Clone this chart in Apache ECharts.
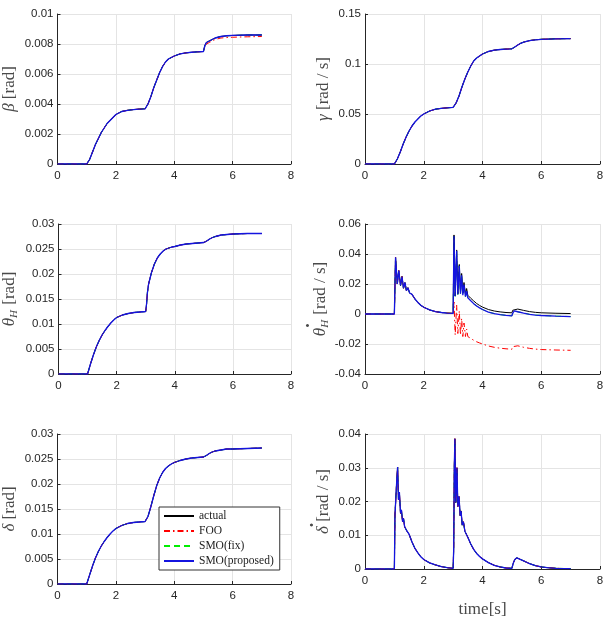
<!DOCTYPE html>
<html><head><meta charset="utf-8">
<script src="https://cdn.jsdelivr.net/npm/echarts@6/dist/echarts.min.js"></script>
<style>html,body{margin:0;padding:0;background:#fff}#c{width:609px;height:619px}</style>
</head><body><div id="c"></div>
<script>
// ---------- DATA ----------
const SERIES_NAMES = ['actual', 'FOO', 'SMO(fix)', 'SMO(proposed)'];
const X_TICKS = [0, 2, 4, 6, 8];

const SMOOTH_T = [0, 1.0, 1.1, 1.2, 1.3, 1.4, 1.5, 1.6, 1.7, 1.8, 1.9, 2.0, 2.2, 2.4, 2.6, 2.8, 3.0, 3.05, 3.1, 3.2, 3.3, 3.4, 3.5, 3.6, 3.7, 3.8, 3.9, 4.0, 4.2, 4.4, 4.6, 4.8, 5.0, 5.05, 5.1, 5.2, 5.3, 5.4, 5.6, 5.8, 6.0, 6.5, 7.0];

const BETA_ACT = [0, 0, 0.0003, 0.0008, 0.0013, 0.0017, 0.0021, 0.0024, 0.0027, 0.0029, 0.0031, 0.0033, 0.0035, 0.00358, 0.00363, 0.00366, 0.00368, 0.0038, 0.0040, 0.0045, 0.0051, 0.0056, 0.0061, 0.0065, 0.0068, 0.0070, 0.0071, 0.0072, 0.00734, 0.00741, 0.00745, 0.00748, 0.0075, 0.0079, 0.0081, 0.0082, 0.0083, 0.0084, 0.0085, 0.00855, 0.00857, 0.0086, 0.0086];
const BETA_FOO = [0, 0, 0.0003, 0.0008, 0.0013, 0.0017, 0.0021, 0.0024, 0.0027, 0.0029, 0.0031, 0.0033, 0.0035, 0.00358, 0.00363, 0.00366, 0.00368, 0.0038, 0.0040, 0.0045, 0.0051, 0.0056, 0.0061, 0.0065, 0.0068, 0.0070, 0.0071, 0.0072, 0.00734, 0.00741, 0.00745, 0.00748, 0.0075, 0.0078, 0.0080, 0.0081, 0.0082, 0.0083, 0.0084, 0.00843, 0.00845, 0.00848, 0.0085];

const GAMMA_ACT = [0, 0, 0.005, 0.012, 0.020, 0.027, 0.033, 0.038, 0.042, 0.045, 0.048, 0.050, 0.053, 0.0548, 0.0557, 0.0562, 0.0566, 0.058, 0.061, 0.068, 0.077, 0.085, 0.092, 0.098, 0.103, 0.106, 0.108, 0.110, 0.1125, 0.1138, 0.1145, 0.1149, 0.1152, 0.1158, 0.117, 0.119, 0.1207, 0.1219, 0.1234, 0.1242, 0.1247, 0.1252, 0.1254];

const THETA_T = [0, 1.0, 1.1, 1.2, 1.3, 1.4, 1.5, 1.6, 1.7, 1.8, 1.9, 2.0, 2.2, 2.4, 2.6, 2.8, 3.0, 3.03, 3.06, 3.1, 3.2, 3.3, 3.4, 3.5, 3.6, 3.7, 3.8, 3.9, 4.0, 4.2, 4.4, 4.6, 4.8, 5.0, 5.1, 5.2, 5.3, 5.4, 5.6, 5.8, 6.0, 6.5, 7.0];
const THETA_ACT = [0, 0, 0.0020, 0.0038, 0.0054, 0.0067, 0.0078, 0.0087, 0.0095, 0.0102, 0.0108, 0.0113, 0.0118, 0.0121, 0.0123, 0.0124, 0.0125, 0.0140, 0.0163, 0.0180, 0.0203, 0.0220, 0.0232, 0.0240, 0.0246, 0.0250, 0.0252, 0.0254, 0.0255, 0.0258, 0.0260, 0.0261, 0.0262, 0.0263, 0.0266, 0.0270, 0.0273, 0.0275, 0.0278, 0.0279, 0.0280, 0.0281, 0.0281];

const DELTA_ACT = [0, 0, 0.0018, 0.0036, 0.0052, 0.0065, 0.0076, 0.0085, 0.0093, 0.0100, 0.0106, 0.0111, 0.0117, 0.0121, 0.0123, 0.0124, 0.0125, 0.0128, 0.0135, 0.0155, 0.0177, 0.0197, 0.0212, 0.0223, 0.0231, 0.0236, 0.0240, 0.0243, 0.0247, 0.0250, 0.0252, 0.0253, 0.0254, 0.0255, 0.0257, 0.0261, 0.0264, 0.0266, 0.0268, 0.0270, 0.0270, 0.0271, 0.0272];

const THDOT_T = [0, 1.0, 1.04, 1.10, 1.15, 1.21, 1.26, 1.31, 1.36, 1.41, 1.46, 1.52, 1.6, 1.7, 1.8, 1.9, 2.0, 2.2, 2.4, 2.6, 2.8, 3.0, 3.03, 3.07, 3.12, 3.16, 3.21, 3.25, 3.29, 3.33, 3.37, 3.42, 3.46, 3.5, 3.6, 3.7, 3.8, 3.9, 4.0, 4.2, 4.4, 4.6, 4.8, 5.0, 5.03, 5.08, 5.2, 5.4, 5.6, 5.8, 6.0, 6.5, 7.0];
const THDOT_ACT = [0, 0, 0.0378, 0.0200, 0.0290, 0.0190, 0.0250, 0.0172, 0.0210, 0.0155, 0.0175, 0.0140, 0.0131, 0.0100, 0.0077, 0.0058, 0.0045, 0.0027, 0.0016, 0.0010, 0.0006, 0.0004, 0.0527, 0.0120, 0.0427, 0.0135, 0.0330, 0.0145, 0.0270, 0.0140, 0.0210, 0.0132, 0.0170, 0.0125, 0.0105, 0.0087, 0.0070, 0.0057, 0.0046, 0.0030, 0.0020, 0.0014, 0.0010, 0.0008, 0.0025, 0.0038, 0.0033, 0.0024, 0.0016, 0.0011, 0.0008, 0.0005, 0.0003];
const THDOT_FOO = [0, 0, 0.0378, 0.0200, 0.0290, 0.0190, 0.0250, 0.0172, 0.0210, 0.0155, 0.0175, 0.0140, 0.0131, 0.0100, 0.0077, 0.0058, 0.0045, 0.0027, 0.0016, 0.0010, 0.0006, 0.0004, 0.0080, -0.0140, 0.0060, -0.0130, 0.0020, -0.0140, -0.0030, -0.0150, -0.0060, -0.0150, -0.0100, -0.0150, -0.0163, -0.0175, -0.0185, -0.0193, -0.0200, -0.0213, -0.0222, -0.0228, -0.0232, -0.0235, -0.0218, -0.0207, -0.0212, -0.0222, -0.0229, -0.0234, -0.0237, -0.0240, -0.0242];
const THDOT_PROP = [0, 0, 0.0378, 0.0200, 0.0290, 0.0190, 0.0250, 0.0172, 0.0210, 0.0155, 0.0175, 0.0140, 0.0131, 0.0100, 0.0077, 0.0058, 0.0045, 0.0027, 0.0016, 0.0010, 0.0006, 0.0004, 0.0520, 0.0118, 0.0422, 0.0130, 0.0322, 0.0135, 0.0258, 0.0126, 0.0196, 0.0116, 0.0153, 0.0108, 0.0088, 0.0069, 0.0053, 0.0041, 0.0030, 0.0013, 0.0003, -0.0004, -0.0009, -0.0012, 0.0005, 0.0021, 0.0015, 0.0006, -0.0002, -0.0007, -0.0010, -0.0014, -0.0017];

const DDOT_T = [0, 1.0, 1.02, 1.05, 1.08, 1.11, 1.14, 1.17, 1.21, 1.24, 1.28, 1.31, 1.35, 1.38, 1.43, 1.5, 1.6, 1.7, 1.8, 1.9, 2.0, 2.2, 2.4, 2.6, 2.8, 3.0, 3.02, 3.04, 3.06, 3.09, 3.13, 3.16, 3.20, 3.24, 3.27, 3.31, 3.35, 3.40, 3.45, 3.5, 3.6, 3.7, 3.8, 3.9, 4.0, 4.2, 4.4, 4.6, 4.8, 5.0, 5.05, 5.1, 5.17, 5.3, 5.4, 5.5, 5.6, 5.7, 5.8, 6.0, 6.2, 6.5, 7.0];
const DDOT_ACT = [0, 0, 0.0160, 0.0210, 0.0260, 0.0302, 0.0205, 0.0228, 0.0165, 0.0175, 0.0140, 0.0150, 0.0125, 0.0130, 0.0112, 0.0103, 0.0080, 0.0061, 0.0048, 0.0036, 0.0028, 0.0018, 0.0012, 0.0007, 0.0004, 0.0002, 0.0060, 0.0300, 0.0386, 0.0197, 0.0300, 0.0185, 0.0215, 0.0158, 0.0172, 0.0130, 0.0140, 0.0112, 0.0112, 0.0094, 0.0074, 0.0058, 0.0046, 0.0037, 0.0030, 0.0019, 0.0011, 0.0006, 0.0003, 0.0002, 0.0018, 0.0028, 0.0033, 0.0028, 0.0024, 0.0020, 0.0016, 0.0013, 0.0010, 0.0006, 0.0004, 0.0002, 0.0001];

// y-axis ranges per panel: [min, max, interval]
const Y_RANGES = [[0, 0.01, 0.002], [0, 0.15, 0.05], [0, 0.03, 0.005], [-0.04, 0.06, 0.02], [0, 0.03, 0.005], [0, 0.04, 0.01]];

// ---------- CHART ----------
const zip = (t, v) => t.map((x, i) => [x, v[i]]);
const PANELS = [
  { t: SMOOTH_T, act: BETA_ACT, foo: BETA_FOO, fix: BETA_ACT, prop: BETA_ACT },
  { t: SMOOTH_T, act: GAMMA_ACT, foo: GAMMA_ACT, fix: GAMMA_ACT, prop: GAMMA_ACT },
  { t: THETA_T, act: THETA_ACT, foo: THETA_ACT, fix: THETA_ACT, prop: THETA_ACT },
  { t: THDOT_T, act: THDOT_ACT, foo: THDOT_FOO, fix: THDOT_PROP, prop: THDOT_PROP },
  { t: SMOOTH_T, act: DELTA_ACT, foo: DELTA_ACT, fix: DELTA_ACT, prop: DELTA_ACT },
  { t: DDOT_T, act: DDOT_ACT, foo: DDOT_ACT, fix: DDOT_ACT, prop: DDOT_ACT }
];

const LEFTS = [57, 365];
const TOPS = [14, 224, 434];
const grids = [], xAxes = [], yAxes = [], series = [];
const AX = '#262626';
const SERIF = 'Liberation Serif';
const LBL = '#4a4a4a';
const richBase = {
  g: { fontFamily: SERIF, fontStyle: 'italic', fontSize: 17, color: LBL, lineHeight: 18 },
  r: { fontFamily: SERIF, fontSize: 17, color: LBL, lineHeight: 18 },
  s: { fontFamily: SERIF, fontStyle: 'italic', fontSize: 11, color: LBL, padding: [9, 1, 0, 0] },
  dt1: { fontFamily: SERIF, fontSize: 18, fontWeight: 'bold', color: LBL, lineHeight: 4, padding: [0, 53, 0, 0] },
  dt2: { fontFamily: SERIF, fontSize: 18, fontWeight: 'bold', color: LBL, lineHeight: 4, padding: [0, 47, 0, 0] }
};
const YNAMES = ['{g|β}{r| [rad]}', '{g|γ}{r| [rad / s]}', '{g|θ}{s|H}{r| [rad]}', '{dt1|·}\n{g|θ}{s|H}{r| [rad / s]}', '{g|δ}{r| [rad]}', '{dt2|·}\n{g|δ}{r| [rad / s]}'];

for (let i = 0; i < 6; i++) {
  const col = i % 2, row = Math.floor(i / 2);
  grids.push({ left: LEFTS[col], top: TOPS[row], width: col ? 235 : 234, height: 150 });
  xAxes.push({
    gridIndex: i, type: 'value', min: X_TICKS[0], max: X_TICKS[X_TICKS.length - 1], interval: X_TICKS[1] - X_TICKS[0],
    axisLine: { show: true, onZero: false, lineStyle: { color: AX, width: 1 } },
    axisTick: { show: true, inside: true, length: 3, lineStyle: { color: AX } },
    axisLabel: { color: AX, fontSize: 11.5, fontFamily: 'Liberation Sans', margin: 6 },
    splitLine: { show: true, lineStyle: { color: '#e4e4e4', width: 1 } },
    name: i === 5 ? 'time[s]' : '', nameLocation: 'middle', nameGap: 32,
    nameTextStyle: { fontFamily: SERIF, fontSize: 17, color: LBL }
  });
  const yr = Y_RANGES[i];
  yAxes.push({
    gridIndex: i, type: 'value', min: yr[0], max: yr[1], interval: yr[2],
    axisLine: { show: true, lineStyle: { color: AX, width: 1 } },
    axisTick: { show: true, inside: true, length: 3, lineStyle: { color: AX } },
    axisLabel: { color: AX, fontSize: 11.5, fontFamily: 'Liberation Sans', margin: 4 },
    splitLine: { show: true, lineStyle: { color: '#e4e4e4', width: 1 } },
    name: YNAMES[i], nameLocation: 'middle', nameRotate: 90, nameGap: col ? 32 : 39,
    nameTextStyle: { rich: richBase }
  });
  const p = PANELS[i];
  const mk = (name, vals, color, type, width, z) => ({
    name, type: 'line', xAxisIndex: i, yAxisIndex: i, data: zip(p.t, vals),
    showSymbol: false, symbol: 'none', silent: true, z,
    lineStyle: { color, type, width }, itemStyle: { color }
  });
  series.push(mk('SMO(fix)', p.fix, '#00ee00', [6, 4], 1, 2));
  series.push(mk('actual', p.act, '#000000', 'solid', 1, 3));
  series.push(mk('FOO', p.foo, '#ff0000', [6, 3, 1.5, 3], 1, 4));
  series.push(mk('SMO(proposed)', p.prop, '#1414e0', 'solid', 1.3, 5));
}

const chart = echarts.init(document.getElementById('c'), null, { renderer: 'canvas' });
chart.setOption({
  animation: false,
  backgroundColor: '#fff',
  grid: grids, xAxis: xAxes, yAxis: yAxes, series,
  legend: {
    data: SERIES_NAMES, orient: 'vertical', left: 159, top: 507,
    itemWidth: 30, itemHeight: 10, itemGap: 3, padding: [3, 6, 3, 4],
    borderColor: '#333', borderWidth: 1, backgroundColor: '#fff',
    itemStyle: { opacity: 0 },
    textStyle: { fontFamily: SERIF, fontSize: 11.5, color: '#222' },
    selectedMode: false
  }
});
</script></body></html>
